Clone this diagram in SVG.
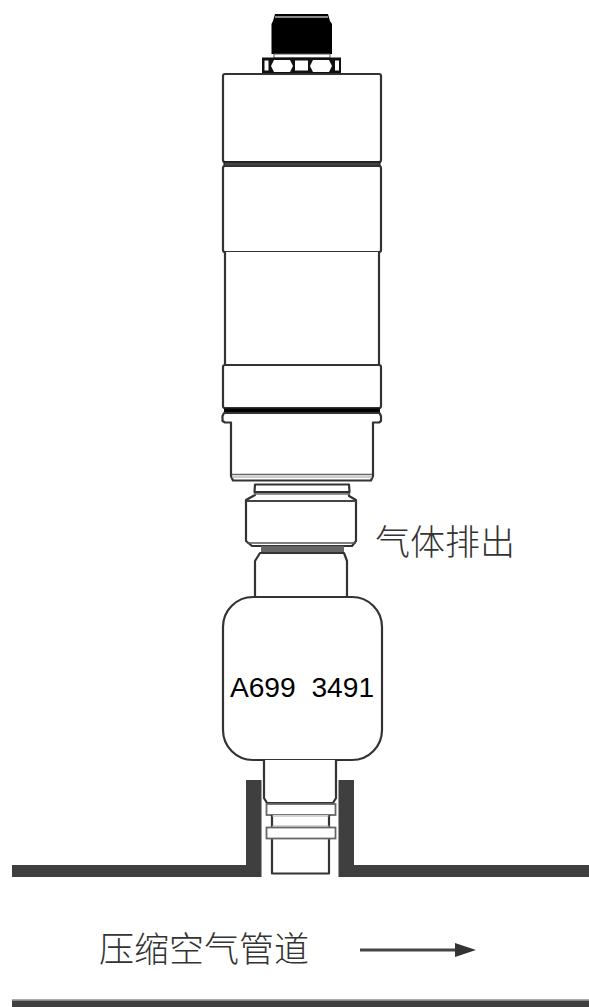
<svg xmlns="http://www.w3.org/2000/svg" width="589" height="1007" viewBox="0 0 589 1007">
<style>
.o{fill:#fff;stroke:#333;stroke-width:2.200;stroke-linejoin:round}
.g{fill:#fff;stroke:#666;stroke-width:1.800}
.w{fill:#3f3f3f}
.cjk{font-family:"Noto Sans CJK SC",sans-serif;font-weight:300;fill:#333;font-size:35px}
</style>
<rect width="589" height="1007" fill="#fff"/>
<g id="sensor-head">
<path d="M275 14H328L330 21L332 24V54H271.500V24L273 21Z" fill="#000"/>
<rect x="275" y="16" width="53" height="2" fill="#888"/>
<rect x="274" y="54" width="56" height="4" fill="#fff" stroke="#555" stroke-width="1"/>
<rect x="262" y="57.500" width="79" height="16" fill="#111"/>
<rect x="264.500" y="60.500" width="4" height="10" fill="#fff"/>
<rect x="335" y="60.500" width="4" height="10" fill="#fff"/>
<rect x="295" y="60.500" width="13" height="10" fill="#fff"/>
<path d="M274 60H290L293 66L290 72H274L271 66Z" fill="#fff"/>
<path d="M313 60H329L332 66L329 72H313L310 66Z" fill="#fff"/>
<rect x="223" y="74" width="158" height="88" rx="2" class="o"/>
<rect x="224" y="162" width="156" height="4" fill="#444" stroke="#111"/>
<rect x="223" y="166" width="158" height="86" rx="2" class="o"/>
<path d="M225 252V365H379V252" class="o"/>
<rect x="223" y="365" width="158" height="43" rx="2" class="o"/>
<rect x="224" y="408.500" width="156" height="4.500" fill="#000"/>
<path d="M224 413L222.500 416V421L225 422.500H231V476L233 480.500H371L373 476V422.500H379L381 421V416L379.500 413Z" class="o"/>
<path d="M232 474.500H372" stroke="#666" stroke-width="1.500"/>
<path d="M232 477H372" stroke="#bbb" stroke-width="1.500"/>
</g>
<g id="exhaust-fitting">
<path d="M255 484.500H349L349.500 492H254.500Z" class="o"/>
<path d="M255 492.500H349V496L356 500V541L352 546H252L246 541V500L255 495Z" class="o"/>
<path d="M254 494H350" stroke="#777" stroke-width="1.500"/>
<path d="M247 501H356" stroke="#444" stroke-width="2"/>
<path d="M247 543H356" stroke="#555" stroke-width="1.500"/>
<path d="M261 546H344V553H261Z" fill="#666"/>
<path d="M255 597V561L260 553H344L347 561V597" class="o"/>
</g>
<g id="gas-exhaust-label"><text x="375" y="555" class="cjk">气体排出</text></g>
<g id="flow-meter-body">
<rect x="223" y="597" width="159" height="163" rx="30" ry="30" class="o"/>
<text x="302" y="696.500" text-anchor="middle" xml:space="preserve" font-family="Liberation Sans, Arial, sans-serif" font-size="28.200" fill="#000">A699  3491</text>
</g>
<g id="probe">
<path d="M264 760V798L267 803H333L336 798V760" class="o"/>
<rect x="266.500" y="804" width="69" height="11" class="g"/>
<path d="M272 815V873.500H329V815" class="o"/>
<rect x="266.500" y="827.500" width="69" height="11" class="g"/>
<path d="M272 816H329M272 826H329" stroke="#aaa"/>
</g>
<g id="pipe">
<path class="w" d="M246 780H261.500V877H12V865H246Z"/>
<path class="w" d="M338.500 780H354V865H589V877H338.500Z"/>
<rect x="12" y="999" width="577" height="1.500" fill="#aaa"/>
<rect class="w" x="12" y="1000.500" width="577" height="6.500"/>
</g>
<g id="connectors">
<path d="M360 950H456" stroke="#444" stroke-width="3"/>
<path d="M455 943L476 950L455 957Z" fill="#333"/>
</g>
<g id="air-pipe-label"><text x="99" y="962" class="cjk">压缩空气管道</text></g>
</svg>
